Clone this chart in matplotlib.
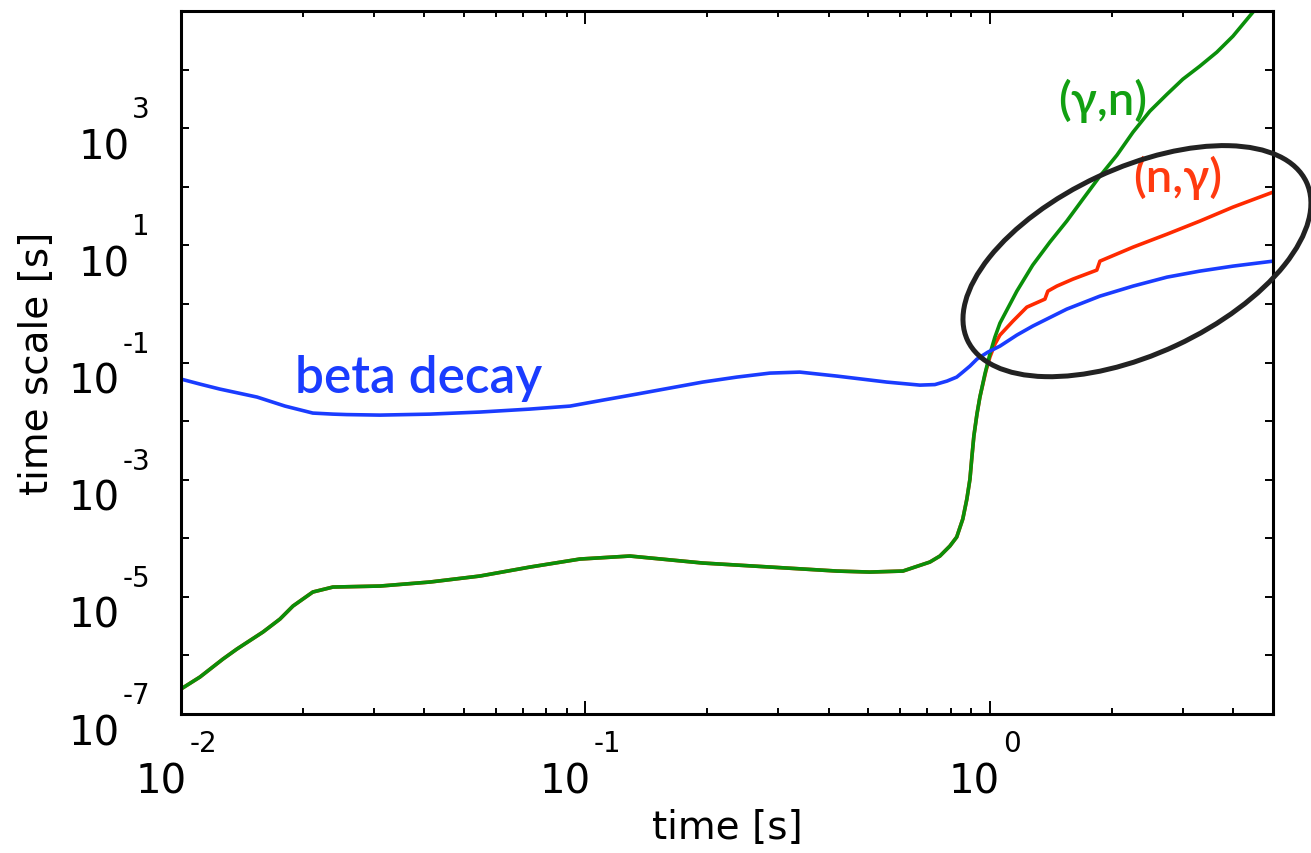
import matplotlib
matplotlib.use("Agg")
import matplotlib.pyplot as plt
from matplotlib.patches import Ellipse
from matplotlib.transforms import IdentityTransform
from matplotlib.ticker import FixedLocator, LogLocator, NullFormatter, NullLocator

# ---------------- data ----------------
beta_t = [0.0100, 0.01114, 0.01247, 0.01542, 0.01808, 0.02118, 0.02375, 0.02571,
          0.03105, 0.04128, 0.05483, 0.07295, 0.09162, 0.1105, 0.1340, 0.1950,
          0.2368, 0.2858, 0.3388, 0.4188, 0.5559, 0.6714, 0.7311, 0.7834, 0.8279,
          0.8570, 0.8927, 0.9290, 0.9886, 1.059, 1.166, 1.276, 1.549, 1.871, 2.259,
          2.742, 3.304, 3.990, 5.012]
beta_tau = [0.0521, 0.0428, 0.0352, 0.0257, 0.01803, 0.0137, 0.01315, 0.01291,
            0.01265, 0.01315, 0.01426, 0.01603, 0.01803, 0.0228, 0.02891, 0.04634,
            0.05636, 0.06592, 0.06855, 0.05861, 0.04634, 0.04111, 0.04198, 0.04819,
            0.05636, 0.06855, 0.0869, 0.1143, 0.1503, 0.1905, 0.2938, 0.4178,
            0.8147, 1.358, 2.014, 2.866, 3.631, 4.416, 5.370]

gn_t = [0.0100, 0.01114, 0.01270, 0.01375, 0.01595, 0.01757, 0.01892, 0.02118,
        0.02375, 0.03105, 0.04128, 0.05483, 0.07295, 0.09689, 0.1288, 0.1950,
        0.2858, 0.4188, 0.5047, 0.6095, 0.7107, 0.7523, 0.7963, 0.8279, 0.8570,
        0.8771, 0.8927, 0.9026, 0.9128, 0.9290, 0.9447, 0.9719, 1.000, 1.029,
        1.059, 1.166, 1.276, 1.407, 1.549, 1.698, 1.871, 2.061, 2.259, 2.486,
        2.742, 3.000, 3.304, 3.640, 3.990, 4.470, 5.012]
gn_tau = [2.672e-7, 4.28e-7, 8.68e-7, 1.286e-6, 2.51e-6, 4.18e-6, 6.97e-6, 1.208e-5,
          1.469e-5, 1.528e-5, 1.790e-5, 2.265e-5, 3.226e-5, 4.416e-5, 4.97e-5,
          3.776e-5, 3.226e-5, 2.754e-5, 2.649e-5, 2.754e-5, 3.926e-5, 4.966e-5,
          7.36e-5, 1.048e-4, 2.128e-4, 4.667e-4, 1.023e-3, 2.432e-3, 5.55e-3,
          0.01315, 0.0257, 0.0634, 0.139, 0.271, 0.470, 1.653, 4.592, 11.35, 25.9,
          61.4, 151.7, 346, 855, 1950, 3802, 6855, 11430, 19820, 37150, 95500,
          254700]

# (n,gamma) follows (gamma,n) up to t ~ 0.945 s, then its own branch
ng_shared = 31
ng_t_hi = [0.9775, 1.000, 1.029, 1.059, 1.140, 1.234, 1.368, 1.391, 1.464, 1.604,
           1.838, 1.871, 2.259, 2.742, 3.304, 3.990, 5.012]
ng_tau_hi = [0.0713, 0.1236, 0.206, 0.294, 0.508, 0.881, 1.208, 1.653, 2.014,
             2.649, 3.776, 5.370, 9.31, 15.52, 25.9, 44.9, 80.9]

x_label_exps = [-2, -1, 0]
y_label_exps = [-7, -5, -3, -1, 1, 3]
y_tick_exps = list(range(-7, 6))

x_range = (0.01, 5.012)
y_range = (1e-7, 1e5)

# ---------------- styling ----------------
BLUE = "#1a3cff"
GREEN = "#0a8f0a"
GREEN_TXT = "#12a012"
RED = "#ff2a00"
RED_TXT = "#ff3a10"

W, H = 1311, 854
fig = plt.figure(figsize=(W / 100, H / 100), dpi=100)
ax = fig.add_axes([181 / W, 139 / H, 1092 / W, 703 / H])

ng_t = gn_t[:ng_shared] + ng_t_hi
ng_tau = gn_tau[:ng_shared] + ng_tau_hi

ax.plot(ng_t, ng_tau, color=RED, lw=2.6, solid_joinstyle="round")
ax.plot(gn_t, gn_tau, color=GREEN, lw=2.6, solid_joinstyle="round")
ax.plot(beta_t, beta_tau, color=BLUE, lw=2.6, solid_joinstyle="round")

ax.set_xscale("log")
ax.set_yscale("log")
ax.set_xlim(*x_range)
ax.set_ylim(*y_range)

for s in ax.spines.values():
    s.set_linewidth(2.2)

ax.yaxis.set_major_locator(FixedLocator([10.0 ** k for k in y_tick_exps]))
ax.yaxis.set_minor_locator(NullLocator())
ax.xaxis.set_major_locator(LogLocator(base=10))
ax.xaxis.set_minor_locator(LogLocator(base=10, subs=range(2, 10)))
ax.xaxis.set_major_formatter(NullFormatter())
ax.xaxis.set_minor_formatter(NullFormatter())
ax.yaxis.set_major_formatter(NullFormatter())

ax.tick_params(axis="both", which="both", direction="in", top=True, right=True,
               labelbottom=False, labelleft=False, width=1.4, color="black")
ax.tick_params(axis="y", which="major", length=6)
ax.tick_params(axis="x", which="major", length=9.5)
ax.tick_params(axis="x", which="minor", length=4.5)

# axis labels
ax.text(0.5, -0.161, "time [s]", transform=ax.transAxes, ha="center", va="center",
        fontsize=28)
ax.text(-0.132, 0.5, "time scale [s]", transform=ax.transAxes, ha="center",
        va="center", rotation=90, fontsize=28)

# curve labels
ann_font = ["Lato", "Noto Sans", "DejaVu Sans"]
ax.text(0.0191, 0.0313, "beta decay", color=BLUE, fontsize=37, ha="left",
        va="baseline", family=ann_font, fontweight="semibold")
ax.text(1.903, 3006, "(γ,n)", color=GREEN_TXT, fontsize=34, ha="center",
        va="center", family=ann_font, fontweight="semibold")
ax.text(2.908, 148.6, "(n,γ)", color=RED_TXT, fontsize=34, ha="center",
        va="center", family=ann_font, fontweight="semibold")

# highlight ellipse (centred in data space, drawn in pixels)
cx, cy = ax.transData.transform((2.31, 5.37))
ell = Ellipse((cx, cy), 374, 186, angle=25, fill=False, edgecolor="#222222",
              lw=3.6, transform=IdentityTransform(), clip_on=False, zorder=5)
fig.add_artist(ell)

# gnuplot-style tick labels: "10" with a detached exponent
fig.canvas.draw()
rend = fig.canvas.get_renderer()
FS_BASE, FS_EXP = 29, 20

for e in x_label_exps:
    xd, yd = ax.transData.transform((10.0 ** e, y_range[0]))
    t10 = fig.text(0, 0, "10", fontsize=FS_BASE, ha="left", va="baseline",
                   transform=IdentityTransform())
    te = fig.text(0, 0, str(e), fontsize=FS_EXP, ha="left", va="baseline",
                  transform=IdentityTransform())
    w10 = t10.get_window_extent(rend).width
    we = te.get_window_extent(rend).width
    gap = 3
    left = xd - 5 - (w10 + gap + we) / 2
    t10.set_position((left, yd - 78))
    te.set_position((left + w10 + gap, yd - 37))

for e in y_label_exps:
    xd, yd = ax.transData.transform((x_range[0], 10.0 ** e))
    te = fig.text(xd - 31, yd + 11, str(e), fontsize=FS_EXP, ha="right",
                  va="baseline", transform=IdentityTransform())
    we = te.get_window_extent(rend).width
    fig.text(xd - 31 - we - 3, yd - 30, "10", fontsize=FS_BASE, ha="right",
             va="baseline", transform=IdentityTransform())

fig.savefig("out.png", dpi=100)
